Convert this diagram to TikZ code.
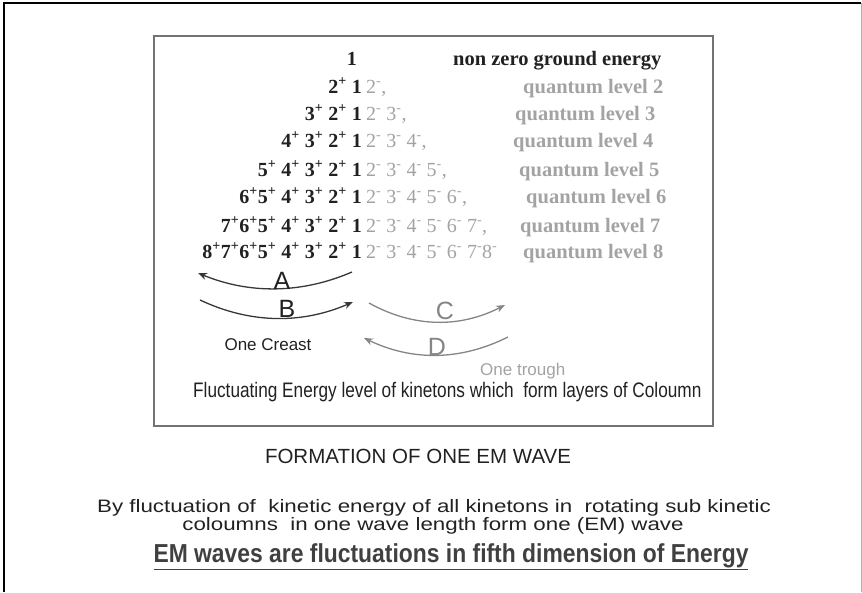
\documentclass[tikz,border=0pt]{standalone}
\usepackage{fontspec}
\setmainfont{Liberation Serif}
\setsansfont{Liberation Sans}
\newfontfamily\narrowsans[FakeStretch=0.82]{Liberation Sans}
\newfontfamily\widesans[FakeStretch=1.24]{Liberation Sans}
\newfontfamily\claimsans[FakeStretch=0.88]{Liberation Sans}
\usetikzlibrary{arrows.meta}
\definecolor{inkdark}{rgb}{0.13,0.13,0.13}
\definecolor{inkgray}{rgb}{0.64,0.64,0.64}
\definecolor{arcgray}{rgb}{0.52,0.52,0.52}
\definecolor{framegray}{rgb}{0.45,0.45,0.45}
\newcommand{\kp}[1]{#1\textsuperscript{+}}
\newcommand{\km}[1]{#1\textsuperscript{-}}

\begin{document}
\begin{tikzpicture}[x=1pt,y=-1pt,
    plusrow/.style={anchor=base east,inner sep=0pt,
                font=\fontsize{20}{20}\selectfont\bfseries,text=inkdark},
    minusrow/.style={anchor=base west,inner sep=0pt,
                font=\fontsize{20}{20}\selectfont,text=inkgray},
    lvl/.style={anchor=base west,inner sep=0pt,
                font=\fontsize{20.5}{20.5}\selectfont\bfseries,text=inkgray},
    tag/.style={inner sep=0pt,font=\sffamily\fontsize{25}{25}\selectfont},
    note/.style={inner sep=0pt,font=\sffamily\fontsize{17}{17}\selectfont},
    arc/.style={-{Stealth[length=9pt,width=7pt]},line width=1.3pt}
  ]
  \useasboundingbox (0,0) rectangle (862,592);
  % frames
  \draw[line width=2.5pt] (4,592) -- (4,3) -- (861,3);
  \draw[black!30,line width=1pt] (861,3) -- (861,592);
  \draw[framegray,line width=1.5pt] (154,36) rectangle (713,426);

  % energy levels
  \node[plusrow] (p1) at (357,65) {1};
  \node[plusrow] (p2) at (362,93) {\kp2 1};
  \node[plusrow] (p3) at (362,120) {\kp3 \kp2 1};
  \node[plusrow] (p4) at (362,147) {\kp4 \kp3 \kp2 1};
  \node[plusrow] (p5) at (362,176) {\kp5 \kp4 \kp3 \kp2 1};
  \node[plusrow] (p6) at (362,203) {\kp6\kp5 \kp4 \kp3 \kp2 1};
  \node[plusrow] (p7) at (362,232) {\kp7\kp6\kp5 \kp4 \kp3 \kp2 1};
  \node[plusrow] (p8) at (362,258) {\kp8\kp7\kp6\kp5 \kp4 \kp3 \kp2 1};

  \node[minusrow] (m2) at (366,93) {\km2,};
  \node[minusrow] (m3) at (366,120) {\km2 \km3,};
  \node[minusrow] (m4) at (366,147) {\km2 \km3 \km4,};
  \node[minusrow] (m5) at (366,176) {\km2 \km3 \km4 \km5,};
  \node[minusrow] (m6) at (366,203) {\km2 \km3 \km4 \km5 \km6,};
  \node[minusrow] (m7) at (366,232) {\km2 \km3 \km4 \km5 \km6 \km7,};
  \node[minusrow] (m8) at (366,258) {\km2 \km3 \km4 \km5 \km6 \km7\km8};

  \node[lvl,text=inkdark] (l1) at (453,65) {non zero ground energy};
  \node[lvl] (l2) at (523,93) {quantum level 2};
  \node[lvl] (l3) at (515,120) {quantum level 3};
  \node[lvl] (l4) at (513,147) {quantum level 4};
  \node[lvl] (l5) at (519,176) {quantum level 5};
  \node[lvl] (l6) at (526,203) {quantum level 6};
  \node[lvl] (l7) at (520,232) {quantum level 7};
  \node[lvl] (l8) at (523,258) {quantum level 8};

  % crest and trough arcs
  \coordinate (aR) at (352,272);
  \coordinate (aL) at (198,273);
  \coordinate (bL) at (200,300);
  \coordinate (bR) at (353,302);
  \coordinate (cL) at (369,303);
  \coordinate (cR) at (505,305);
  \coordinate (dR) at (508,337);
  \coordinate (dL) at (364,338);
  \draw[arc,inkdark!90] (aR) .. controls (301,294) and (249,294) .. (aL);
  \draw[arc,inkdark!90] (bL) .. controls (251,324) and (302,324) .. (bR);
  \draw[arc,arcgray] (cL) .. controls (414,328) and (460,328) .. (cR);
  \draw[arc,arcgray] (dR) .. controls (460,361) and (412,361) .. (dL);

  \node[tag,text=inkdark] (tA) at (282,281) {A};
  \node[tag,text=inkdark] (tB) at (287,309) {B};
  \node[tag,text=arcgray] (tC) at (445,311) {C};
  \node[tag,text=arcgray] (tD) at (437,347) {D};

  \node[note,text=inkdark] (crest) at (268,345) {One Creast};
  \node[note,text=inkgray,anchor=west] (trough) at (480,371) {One trough};
  \node[inner sep=0pt,anchor=base west,text=inkdark,
        font=\narrowsans\fontsize{21}{21}\selectfont] (cap)
        at (193,397) {Fluctuating Energy level of kinetons which\ \ form layers of Coloumn};

  % captions below
  \node[inner sep=0pt,anchor=base,text=inkdark,
        font=\sffamily\fontsize{20.5}{20.5}\selectfont] (title)
        at (418,463) {FORMATION OF ONE EM WAVE};
  \node[inner sep=0pt,anchor=base,text=inkdark,
        font=\widesans\fontsize{18}{18}\selectfont] (by1)
        at (434,512) {By fluctuation of\ \ kinetic energy of all kinetons in\ \ rotating sub kinetic};
  \node[inner sep=0pt,anchor=base,text=inkdark,
        font=\widesans\fontsize{18}{18}\selectfont] (by2)
        at (433,530) {coloumns\ \ in one wave length form one (EM) wave};
  \node[inner sep=0pt,anchor=base,text=black!75,
        font=\claimsans\bfseries\fontsize{26}{26}\selectfont] (claim)
        at (451,562) {\underline{EM waves are fluctuations in fifth dimension of Energy}};
\end{tikzpicture}
\end{document}
